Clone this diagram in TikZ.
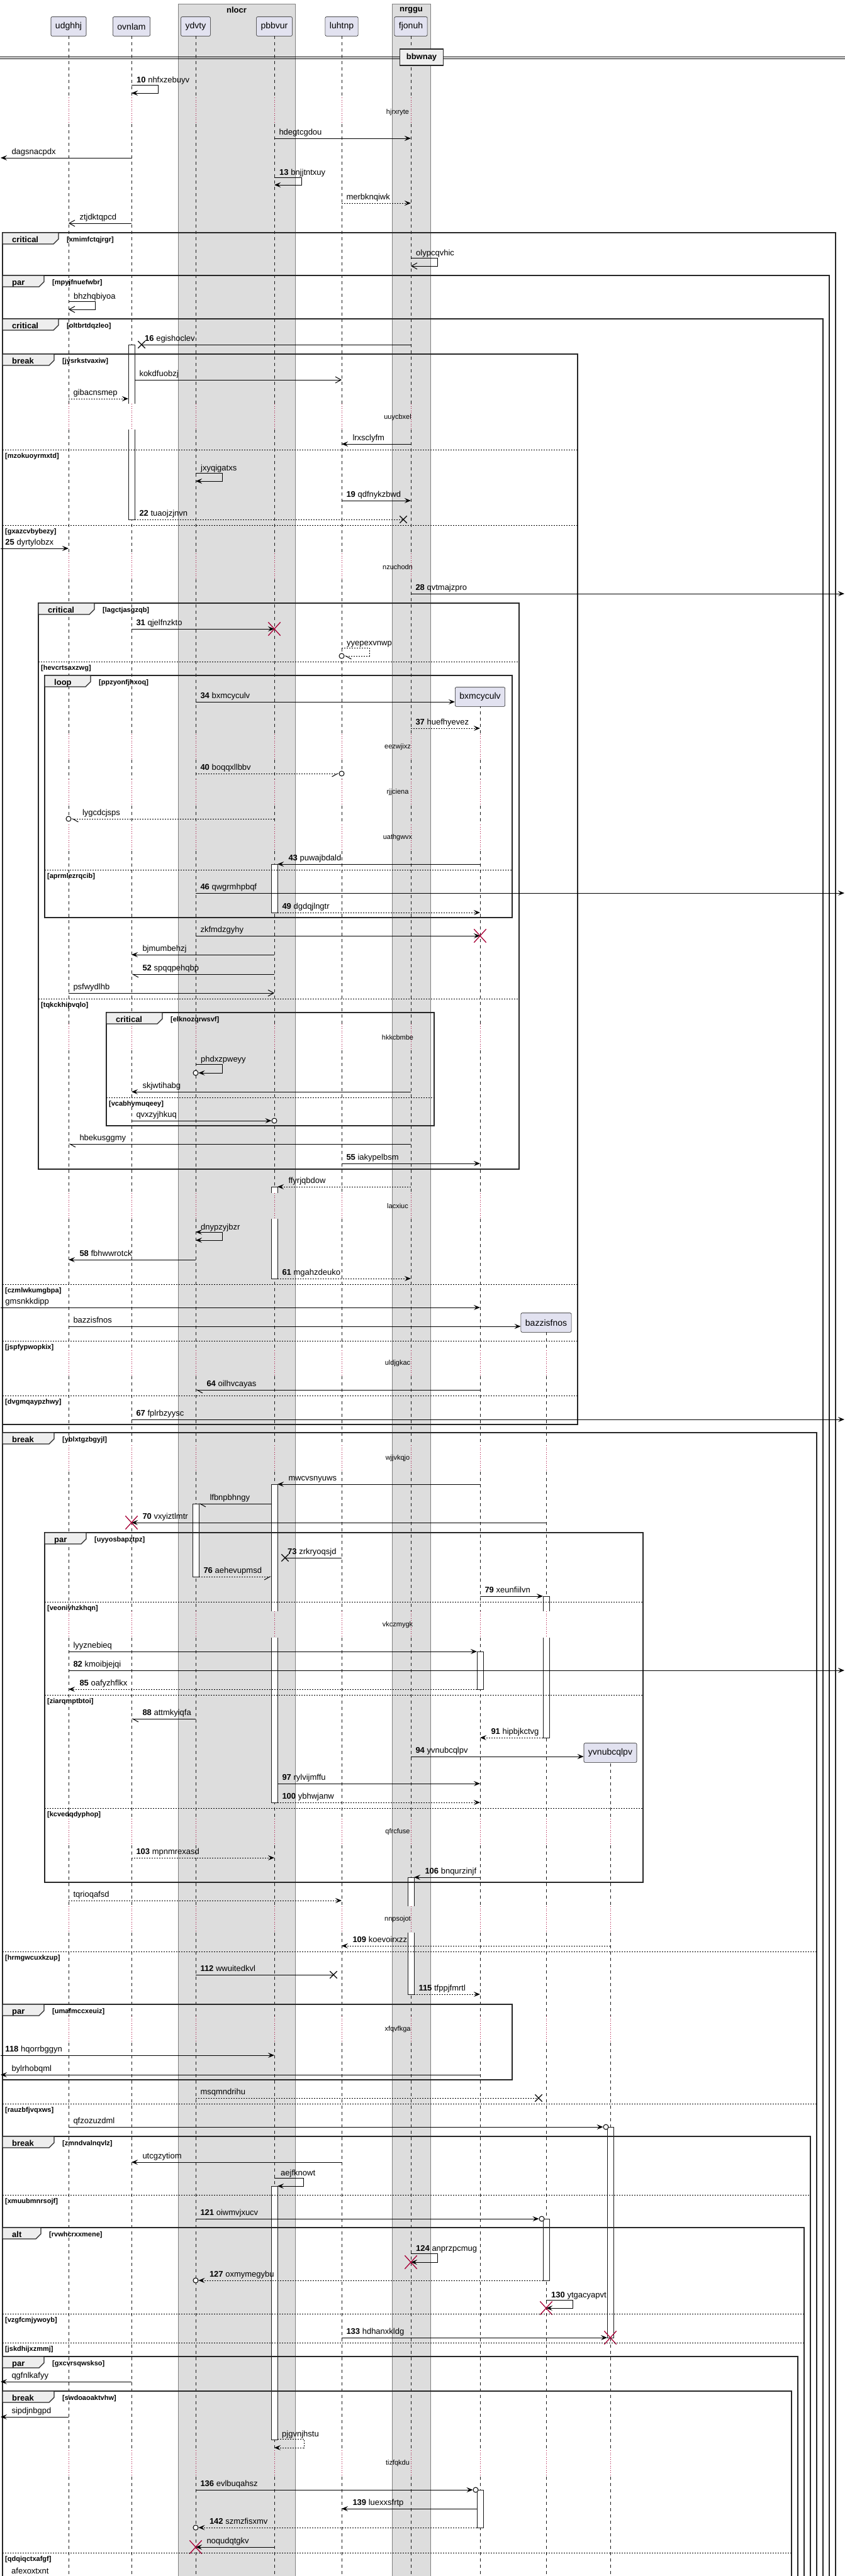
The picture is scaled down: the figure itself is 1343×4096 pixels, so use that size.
\documentclass[tikz,border=0pt]{standalone}
\usepackage{fontspec}
\setmainfont{Liberation Sans}
\usetikzlibrary{arrows.meta,shapes.misc}

\definecolor{headfill}{HTML}{E2E2F0}
\definecolor{headline}{HTML}{181818}
\definecolor{boxfill}{HTML}{DDDDDD}
\definecolor{tabfill}{HTML}{EEEEEE}
\definecolor{killred}{HTML}{A80036}

\newcommand\fmsg{\fontsize{13pt}{15pt}\selectfont}
\newcommand\fhead{\fontsize{14pt}{16pt}\selectfont}
\newcommand\fsmall{\fontsize{11pt}{13pt}\selectfont}

% group frame: x0, y0, x1, y1, kind, tab width, guard
\newcommand\frag[7]{%
  \draw[frm] (#1,#2) rectangle (#3,#4);
  \draw[tab] (#1,#2) -- ++(#6,0) -- ++(0,10) -- ++(-8,8) -- ({#1},{#2+18}) -- cycle;
  \node[kindf] (k#2) at ({#1+15},{#2+15}) {#5};
  \node[guardf] (g#2) at ({#1+#6+13},{#2+14}) {[#7]};
}
% else line: x0, x1, y, guard
\newcommand\fragsep[4]{%
  \draw[sepd] (#1,#3) -- (#2,#3);
  \node[guardf] (s#3) at ({#1+4},{#3+13}) {[#4]};
}
% activation bar, plain and with a delay gap
\newcommand\actbar[3]{%
  \draw[actv] ([xshift=-5pt]#1 |- 0,#2) rectangle ([xshift=5pt]#1 |- 0,#3);
}
\newcommand\actgap[5]{%
  \fill[white] ([xshift=-5pt]#1 |- 0,#2) rectangle ([xshift=5pt]#1 |- 0,#3);
  \fill[white] ([xshift=-5pt]#1 |- 0,#4) rectangle ([xshift=5pt]#1 |- 0,#5);
  \draw[actl] ([xshift=-5pt]#1 |- 0,#3) |- ([xshift=5pt]#1 |- 0,#2) -- ([xshift=5pt]#1 |- 0,#3);
  \draw[actl] ([xshift=-5pt]#1 |- 0,#4) |- ([xshift=5pt]#1 |- 0,#5) -- ([xshift=5pt]#1 |- 0,#4);
}

\begin{document}
\begin{tikzpicture}[
    x = 1pt,
    y = -1pt,
    head/.style = {
      draw = headline,
      fill = headfill,
      rounded corners = 2pt,
      line width = 0.6pt,
      font = \fhead,
      minimum height = 30.6pt,
      inner xsep = 7pt
    },
    boxt/.style = {font = \fmsg\bfseries},
    life/.style = {draw = headline, line width = 0.5pt, dash pattern = on 5pt off 5pt},
    dly/.style = {draw = killred, line width = 0.8pt, dash pattern = on 1pt off 2.5pt},
    dlyf/.style = {font = \fsmall},
    actv/.style = {draw = headline, fill = white, line width = 0.6pt},
    actl/.style = {draw = headline, line width = 0.6pt},
    frm/.style = {draw = black!85, line width = 1.5pt},
    tab/.style = {draw = black!85, line width = 1.2pt, fill = tabfill},
    kindf/.style = {font = \fmsg\bfseries, anchor = base west, inner sep = 0pt},
    guardf/.style = {font = \fsmall\bfseries, anchor = base west, inner sep = 0pt},
    sepd/.style = {draw = black, line width = 0.8pt, dash pattern = on 2pt off 2pt},
    sync/.style = {line width = 1pt, -{Stealth[length=10pt, width=8pt, inset=4pt]}},
    ret/.style = {sync, dash pattern = on 2pt off 2pt},
    both/.style = {line width = 1pt, {Stealth[length=10pt, width=8pt, inset=4pt]}-{Stealth[length=10pt, width=8pt, inset=4pt]}},
    opn/.style = {line width = 1pt, -{Straight Barb[length=9pt, width=10pt]}},
    halfl/.style = {line width = 1pt, -{Straight Barb[left, length=9pt, width=10pt]}},
    halfr/.style = {line width = 1pt, -{Straight Barb[right, length=9pt, width=10pt]}},
    halflr/.style = {halfl, dash pattern = on 2pt off 2pt},
    halfrr/.style = {halfr, dash pattern = on 2pt off 2pt},
    lne/.style = {line width = 1pt},
    lnd/.style = {line width = 1pt, dash pattern = on 2pt off 2pt},
    lbl/.style = {font = \fmsg, anchor = base west, inner sep = 0pt},
    lr/.style = {lbl, pos = 0, xshift = 7pt, yshift = 6pt},
    rl/.style = {lbl, pos = 1, xshift = 17pt, yshift = 6pt},
    lost/.style = {cross out, draw, line width = 1.3pt, minimum size = 10pt, inner sep = 0pt},
    kill/.style = {cross out, draw = killred, line width = 1.3pt, minimum width = 18pt, minimum height = 20pt, inner sep = 0pt},
    dot/.style = {circle, draw, fill = white, line width = 1pt, minimum size = 8pt, inner sep = 0pt},
    divbox/.style = {draw = black!85, fill = tabfill, line width = 1.5pt, font = \fmsg\bfseries, minimum width = 69pt, minimum height = 26pt}
  ]
  \useasboundingbox (0,0) rectangle (1343,4096);
  \fill[white] (0,0) rectangle (1343,4096);
  \coordinate (lft) at (1,0);
  \coordinate (rgt) at (1342,0);

  % boxes
  \fill[boxfill] (283,6) rectangle (469,4110);
  \draw[gray, line width = 0.5pt] (283,6) rectangle (469,4110);
  \node[boxt] (nlocr) at (376,16) {nlocr};
  \fill[boxfill] (623,6) rectangle (684,4110);
  \draw[gray, line width = 0.5pt] (623,6) rectangle (684,4110);
  \node[boxt] (nrggu) at (653.5,16) {nrggu};

  % participants
  \node[head] (udghhj) at (109,42) {udghhj};
  \node[head] (ovnlam) at (209,42) {ovnlam};
  \node[head] (ydvty) at (311,42) {ydvty};
  \node[head] (pbbvur) at (436,42) {pbbvur};
  \node[head] (luhtnp) at (543,42) {luhtnp};
  \node[head] (fjonuh) at (653,42) {fjonuh};
  \node[head] (bxmcyculv) at (763,1108) {bxmcyculv};
  \node[head] (bazzisfnos) at (868,2103) {bazzisfnos};
  \node[head] (yvnubcqlpv) at (970,2787) {yvnubcqlpv};

  % lifelines, dotted where the delays are
  \foreach \n/\s in {udghhj/57, ovnlam/57, ydvty/57, pbbvur/57, luhtnp/57, fjonuh/57,
                     bxmcyculv/1123, bazzisfnos/2118, yvnubcqlpv/2802}{
    \begin{scope}
      \clip (0,\s) rectangle (1343,4110);
      \foreach \a/\b in {57/155, 197/642, 683/880, 921/1167, 1208/1239, 1281/1311,
                         1353/1628, 1670/1897, 1938/2147, 2188/2298, 2340/2562,
                         2604/2892, 2934/3031, 3073/3206, 3248/3896, 3938/4110}
        \draw[life] (\n |- 0,\a) -- (\n |- 0,\b);
      \foreach \a/\b in {155/197, 642/683, 880/921, 1167/1208, 1239/1281, 1311/1353,
                         1628/1670, 1897/1938, 2147/2188, 2298/2340, 2562/2604,
                         2892/2934, 3031/3073, 3206/3248, 3896/3938}
        \draw[dly] (\n |- 0,\a) -- (\n |- 0,\b);
    \end{scope}
  }

  % delay texts
  \node[dlyf] (d179) at (632,179) {hjrxryte};
  \node[dlyf] (d664) at (632,664) {uuycbxel};
  \node[dlyf] (d902) at (632,902) {nzuchodn};
  \node[dlyf] (d1188) at (632,1188) {eezwjixz};
  \node[dlyf] (d1260) at (632,1260) {rjjciena};
  \node[dlyf] (d1332) at (632,1332) {uathgwvx};
  \node[dlyf] (d1650) at (632,1650) {hkkcbmbe};
  \node[dlyf] (d1918) at (632,1918) {lacxiuc};
  \node[dlyf] (d2168) at (632,2168) {uldjgkac};
  \node[dlyf] (d2319) at (632,2319) {wjjvkqjo};
  \node[dlyf] (d2584) at (632,2584) {vkczmygk};
  \node[dlyf] (d2913) at (632,2913) {qfrcfuse};
  \node[dlyf] (d3052) at (632,3052) {nnpsojot};
  \node[dlyf] (d3227) at (632,3227) {xfqvfkga};
  \node[dlyf] (d3917) at (632,3917) {tizfqkdu};

  % activations
  \actgap{ovnlam}{548}{642}{683}{826}
  \actbar{pbbvur}{1374}{1451}
  \actgap{pbbvur}{1887}{1897}{1938}{2033}
  \actgap{pbbvur}{2360}{2562}{2604}{2866}
  \actbar{ydvty}{2391}{2507}
  \actgap{bazzisfnos}{2538}{2562}{2604}{2763}
  \actbar{bxmcyculv}{2626}{2686}
  \actgap{fjonuh}{2985}{3031}{3073}{3171}
  \actbar{yvnubcqlpv}{3382}{3717}
  \actbar{pbbvur}{3476}{3879}
  \actbar{bazzisfnos}{3528}{3626}
  \actbar{bxmcyculv}{3959}{4019}

  % divider
  \draw[line width = 1pt] (0,90) -- (1343,90);
  \draw[line width = 1pt] (0,93) -- (1343,93);
  \node[divbox] (bbwnay) at (670,91) {bbwnay};

  % messages
  \draw[sync] (ovnlam |- 0,135) -- ++(42,0) -- ++(0,13) -- (ovnlam |- 0,148);
  \node[lbl] (n135) at ([xshift=8pt]ovnlam |- 0,131) {\textbf{10} nhfxzebuyv};
  \draw[sync] (pbbvur |- 0,220) -- (fjonuh |- 0,220) node[lr] (n220) {hdegtcgdou};
  \draw[sync] (ovnlam |- 0,251) -- (lft |- 0,251) node[rl] (n251) {dagsnacpdx};
  \draw[sync] (pbbvur |- 0,282) -- ++(43,0) -- ++(0,12) -- (pbbvur |- 0,294);
  \node[lbl] (n282) at ([xshift=8pt]pbbvur |- 0,278) {\textbf{13} bnjjtntxuy};
  \draw[ret] (luhtnp |- 0,323) -- (fjonuh |- 0,323) node[lr] (n323) {merbknqiwk};
  \draw[opn] (ovnlam |- 0,355) -- (udghhj |- 0,355) node[rl] (n355) {ztjdktqpcd};

  \frag{4}{370}{1328}{4110}{critical}{89}{xmimfctqjrgr}
  \draw[opn] (fjonuh |- 0,410) -- ++(42,0) -- ++(0,13) -- (fjonuh |- 0,423);
  \node[lbl] (n410) at ([xshift=8pt]fjonuh |- 0,406) {olypcqvhic};

  \frag{4}{438}{1318}{4110}{par}{66}{mpyjfnuefwbr}
  \draw[opn] (udghhj |- 0,479) -- ++(42,0) -- ++(0,13) -- (udghhj |- 0,492);
  \node[lbl] (n479) at ([xshift=8pt]udghhj |- 0,475) {bhzhqbiyoa};

  \frag{4}{507}{1308}{4110}{critical}{89}{oltbrtdqzleo}
  \node[lost] (x548) at ([xshift=16pt]ovnlam |- 0,548) {};
  \draw[lne] (fjonuh |- 0,548) -- (x548.center);
  \node[lbl] (n548) at ([xshift=21pt]ovnlam |- 0,542) {\textbf{16} egishoclev};

  \frag{4}{563}{918}{2265}{break}{82}{jysrkstvaxiw}
  \draw[opn] ([xshift=5pt]ovnlam |- 0,604) -- (luhtnp |- 0,604) node[lr] (n604) {kokdfuobzj};
  \draw[ret] (udghhj |- 0,634) -- ([xshift=-5pt]ovnlam |- 0,634) node[lr] (n634) {gibacnsmep};
  \draw[sync] (fjonuh |- 0,706) -- (luhtnp |- 0,706) node[rl] (n706) {lrxsclyfm};
  \fragsep{4}{918}{715}{mzokuoyrmxtd}
  \draw[sync] (ydvty |- 0,752) -- ++(42,0) -- ++(0,13) -- (ydvty |- 0,765);
  \node[lbl] (n752) at ([xshift=8pt]ydvty |- 0,748) {jxyqigatxs};
  \draw[sync] (luhtnp |- 0,796) -- (fjonuh |- 0,796) node[lr] (n796) {\textbf{19} qdfnykzbwd};
  \node[lost] (x826) at ([xshift=-12pt]fjonuh |- 0,826) {};
  \draw[lnd] ([xshift=5pt]ovnlam |- 0,826) -- (x826.center) node[lr] (n826) {\textbf{22} tuaojzjnvn};
  \fragsep{4}{918}{835}{gxazcvbybezy}
  \draw[sync] (lft |- 0,872) -- (udghhj |- 0,872) node[lr] (n872) {\textbf{25} dyrtylobzx};
  \draw[sync] (fjonuh |- 0,944) -- (rgt |- 0,944) node[lr] (n944) {\textbf{28} qvtmajzpro};

  \frag{61}{959}{825}{1859}{critical}{89}{lagctjasgzqb}
  \draw[sync] (ovnlam |- 0,1000) -- (pbbvur |- 0,1000) node[lr] (n1000) {\textbf{31} qjelfnzkto};
  \node[kill] (k1000) at (pbbvur |- 0,1000) {};
  \node[dot] (c1043) at (luhtnp |- 0,1043) {};
  \draw[halflr] (luhtnp |- 0,1030) -- ++(44,0) -- ++(0,13) -- (c1043.east);
  \node[lbl] (n1030) at ([xshift=8pt]luhtnp |- 0,1026) {yyepexvnwp};
  \fragsep{61}{825}{1052}{hevcrtsaxzwg}

  \frag{71}{1074}{814}{1459}{loop}{73}{ppzyonfjhxoq}
  \draw[sync] (ydvty |- 0,1116) -- (bxmcyculv.west |- 0,1116) node[lr] (n1116) {\textbf{34} bxmcyculv};
  \draw[ret] (fjonuh |- 0,1158) -- (bxmcyculv |- 0,1158) node[lr] (n1158) {\textbf{37} huefhyevez};
  \node[dot] (c1230) at (luhtnp |- 0,1230) {};
  \draw[halfrr] (ydvty |- 0,1230) -- (c1230.west) node[lr] (n1230) {\textbf{40} boqqxllbbv};
  \node[dot] (c1302) at (udghhj |- 0,1302) {};
  \draw[halflr] (pbbvur |- 0,1302) -- (c1302.east) node[rl] (n1302) {lygcdcjsps};
  \draw[sync] (bxmcyculv |- 0,1374) -- ([xshift=5pt]pbbvur |- 0,1374) node[rl] (n1374) {\textbf{43} puwajbdald};
  \fragsep{71}{814}{1383}{aprmlezrqcib}
  \draw[sync] (ydvty |- 0,1420) -- (rgt |- 0,1420) node[lr] (n1420) {\textbf{46} qwgrmhpbqf};
  \draw[ret] ([xshift=5pt]pbbvur |- 0,1451) -- (bxmcyculv |- 0,1451) node[lr] (n1451) {\textbf{49} dgdqjlngtr};

  \draw[sync] (ydvty |- 0,1488) -- (bxmcyculv |- 0,1488) node[lr] (n1488) {zkfmdzgyhy};
  \node[kill] (k1488) at (bxmcyculv |- 0,1488) {};
  \draw[sync] (pbbvur |- 0,1518) -- (ovnlam |- 0,1518) node[rl] (n1518) {bjmumbehzj};
  \draw[halfl] (pbbvur |- 0,1549) -- (ovnlam |- 0,1549) node[rl] (n1549) {\textbf{52} spqqpehqbp};
  \draw[opn] (udghhj |- 0,1579) -- (pbbvur |- 0,1579) node[lr] (n1579) {psfwydlhb};
  \fragsep{61}{825}{1588}{tqkckhipvqlo}

  \frag{169}{1610}{690}{1790}{critical}{89}{elknozqrwsvf}
  \node[dot] (c1706) at (ydvty |- 0,1706) {};
  \draw[sync] (ydvty |- 0,1692) -- ++(42,0) -- ++(0,14) -- (c1706.east);
  \node[lbl] (n1692) at ([xshift=8pt]ydvty |- 0,1688) {phdxzpweyy};
  \draw[sync] (fjonuh |- 0,1736) -- (ovnlam |- 0,1736) node[rl] (n1736) {skjwtihabg};
  \fragsep{169}{690}{1745}{vcabhymuqeey}
  \node[dot] (c1782) at (pbbvur |- 0,1782) {};
  \draw[sync] (ovnlam |- 0,1782) -- (c1782.west) node[lr] (n1782) {qvxzyjhkuq};
  \draw[halfl] (fjonuh |- 0,1819) -- (udghhj |- 0,1819) node[rl] (n1819) {hbekusggmy};
  \draw[sync] (luhtnp |- 0,1850) -- (bxmcyculv |- 0,1850) node[lr] (n1850) {\textbf{55} iakypelbsm};

  \draw[ret] (fjonuh |- 0,1887) -- ([xshift=5pt]pbbvur |- 0,1887) node[rl] (n1887) {ffyrjqbdow};
  \draw[both] (ydvty |- 0,1959) -- ++(42,0) -- ++(0,13) -- (ydvty |- 0,1972);
  \node[lbl] (n1959) at ([xshift=8pt]ydvty |- 0,1955) {dnypzyjbzr};
  \draw[sync] (ydvty |- 0,2003) -- (udghhj |- 0,2003) node[rl] (n2003) {\textbf{58} fbhwwrotck};
  \draw[ret] ([xshift=5pt]pbbvur |- 0,2033) -- (fjonuh |- 0,2033) node[lr] (n2033) {\textbf{61} mgahzdeuko};
  \fragsep{4}{918}{2042}{czmlwkumgbpa}
  \draw[sync] (lft |- 0,2079) -- (bxmcyculv |- 0,2079) node[lr] (n2079) {gmsnkkdipp};
  \draw[sync] (udghhj |- 0,2109) -- (bazzisfnos.west |- 0,2109) node[lr] (n2109) {bazzisfnos};
  \fragsep{4}{918}{2132}{jspfypwopkix}
  \draw[halfl] (bxmcyculv |- 0,2210) -- (ydvty |- 0,2210) node[rl] (n2210) {\textbf{64} oilhvcayas};
  \fragsep{4}{918}{2219}{dvgmqaypzhwy}
  \draw[sync] (ovnlam |- 0,2257) -- (rgt |- 0,2257) node[lr] (n2257) {\textbf{67} fplrbzyysc};

  \frag{4}{2278}{1298}{4110}{break}{82}{yblxtgzbgyjl}
  \draw[sync] (bxmcyculv |- 0,2360) -- ([xshift=5pt]pbbvur |- 0,2360) node[rl] (n2360) {mwcvsnyuws};
  \draw[halfl] ([xshift=-5pt]pbbvur |- 0,2391) -- ([xshift=5pt]ydvty |- 0,2391) node[rl] (n2391) {lfbnpbhngy};
  \draw[sync] (bazzisfnos |- 0,2421) -- (ovnlam |- 0,2421) node[rl] (n2421) {\textbf{70} vxyiztlmtr};
  \node[kill] (k2421) at (ovnlam |- 0,2421) {};

  \frag{71}{2437}{1022}{2993}{par}{66}{uyyosbapztpz}
  \node[lost] (x2477) at ([xshift=17pt]pbbvur |- 0,2477) {};
  \draw[lne] (luhtnp |- 0,2477) -- (x2477.center);
  \node[lbl] (n2477) at ([xshift=21pt]pbbvur |- 0,2471) {\textbf{73} zrkryoqsjd};
  \draw[halfrr] ([xshift=5pt]ydvty |- 0,2507) -- ([xshift=-5pt]pbbvur |- 0,2507) node[lr] (n2507) {\textbf{76} aehevupmsd};
  \draw[sync] (bxmcyculv |- 0,2538) -- ([xshift=-5pt]bazzisfnos |- 0,2538) node[lr] (n2538) {\textbf{79} xeunfiilvn};
  \fragsep{71}{1022}{2547}{veonivhzkhqn}
  \draw[sync] (udghhj |- 0,2626) -- ([xshift=-5pt]bxmcyculv |- 0,2626) node[lr] (n2626) {lyyznebieq};
  \draw[sync] (udghhj |- 0,2656) -- (rgt |- 0,2656) node[lr] (n2656) {\textbf{82} kmoibjejqi};
  \draw[ret] ([xshift=-5pt]bxmcyculv |- 0,2686) -- (udghhj |- 0,2686) node[rl] (n2686) {\textbf{85} oafyzhflkx};
  \fragsep{71}{1022}{2695}{ziarqmptbtoi}
  \draw[halfl] (ydvty |- 0,2733) -- (ovnlam |- 0,2733) node[rl] (n2733) {\textbf{88} attmkyiqfa};
  \draw[ret] ([xshift=-5pt]bazzisfnos |- 0,2763) -- (bxmcyculv |- 0,2763) node[rl] (n2763) {\textbf{91} hipbjkctvg};
  \draw[sync] (fjonuh |- 0,2793) -- (yvnubcqlpv.west |- 0,2793) node[lr] (n2793) {\textbf{94} yvnubcqlpv};
  \draw[sync] ([xshift=5pt]pbbvur |- 0,2836) -- (bxmcyculv |- 0,2836) node[lr] (n2836) {\textbf{97} rylvijmffu};
  \draw[ret] ([xshift=5pt]pbbvur |- 0,2866) -- (bxmcyculv |- 0,2866) node[lr] (n2866) {\textbf{100} ybhwjanw};
  \fragsep{71}{1022}{2875}{kcvedqdyphop}
  \draw[ret] (ovnlam |- 0,2954) -- (pbbvur |- 0,2954) node[lr] (n2954) {\textbf{103} mpnmrexasd};
  \draw[sync] (bxmcyculv |- 0,2985) -- ([xshift=5pt]fjonuh |- 0,2985) node[rl] (n2985) {\textbf{106} bnqurzinjf};

  \draw[ret] (udghhj |- 0,3022) -- (luhtnp |- 0,3022) node[lr] (n3022) {tqrioqafsd};
  \draw[ret] (yvnubcqlpv |- 0,3094) -- (luhtnp |- 0,3094) node[rl] (n3094) {\textbf{109} koevoirxzz};
  \fragsep{4}{1298}{3103}{hrmgwcuxkzup}
  \node[lost] (x3140) at ([xshift=-13pt]luhtnp |- 0,3140) {};
  \draw[lne] (ydvty |- 0,3140) -- (x3140.center) node[lr] (n3140) {\textbf{112} wwuitedkvl};
  \draw[ret] ([xshift=5pt]fjonuh |- 0,3171) -- (bxmcyculv |- 0,3171) node[lr] (n3171) {\textbf{115} tfppjfmrtl};

  \frag{4}{3187}{814}{3307}{par}{66}{umafmccxeuiz}
  \draw[sync] (lft |- 0,3268) -- (pbbvur |- 0,3268) node[lr] (n3268) {\textbf{118} hqorrbggyn};
  \draw[sync] (bxmcyculv |- 0,3299) -- (lft |- 0,3299) node[rl] (n3299) {bylrhobqml};

  \node[lost] (x3336) at ([xshift=-12pt]bazzisfnos |- 0,3336) {};
  \draw[lnd] (ydvty |- 0,3336) -- (x3336.center) node[lr] (n3336) {msqmndrihu};
  \fragsep{4}{1298}{3345}{rauzbfjvqxws}
  \node[dot] (c3382) at ([xshift=-7pt]yvnubcqlpv |- 0,3382) {};
  \draw[sync] (udghhj |- 0,3382) -- (c3382.west) node[lr] (n3382) {qfzozuzdml};

  \frag{4}{3397}{1288}{4110}{break}{82}{zmndvalnqvlz}
  \draw[sync] (luhtnp |- 0,3438) -- (ovnlam |- 0,3438) node[rl] (n3438) {utcgzytiom};
  \draw[sync] (pbbvur |- 0,3463) -- ++(46,0) -- ++(0,13) -- ([xshift=5pt]pbbvur |- 0,3476);
  \node[lbl] (n3463) at ([xshift=10pt]pbbvur |- 0,3459) {aejfknowt};
  \fragsep{4}{1288}{3490}{xmuubmnrsojf}
  \node[dot] (c3528) at ([xshift=-7pt]bazzisfnos |- 0,3528) {};
  \draw[sync] (ydvty |- 0,3528) -- (c3528.west) node[lr] (n3528) {\textbf{121} oiwmvjxucv};

  \frag{4}{3542}{1278}{4110}{alt}{61}{rvwhcrxxmene}
  \draw[sync] (fjonuh |- 0,3583) -- ++(42,0) -- ++(0,14) -- (fjonuh |- 0,3597);
  \node[lbl] (n3583) at ([xshift=8pt]fjonuh |- 0,3579) {\textbf{124} anprzpcmug};
  \node[kill] (k3597) at (fjonuh |- 0,3597) {};
  \node[dot] (c3626) at (ydvty |- 0,3626) {};
  \draw[ret] ([xshift=-5pt]bazzisfnos |- 0,3626) -- (c3626.east) node[rl] (n3626) {\textbf{127} oxmymegybu};
  \draw[sync] (bazzisfnos |- 0,3657) -- ++(42,0) -- ++(0,13) -- (bazzisfnos |- 0,3670);
  \node[lbl] (n3657) at ([xshift=8pt]bazzisfnos |- 0,3653) {\textbf{130} ytgacyapvt};
  \node[kill] (k3670) at (bazzisfnos |- 0,3670) {};
  \fragsep{4}{1278}{3679}{vzgfcmjywoyb}
  \draw[sync] (luhtnp |- 0,3717) -- ([xshift=-5pt]yvnubcqlpv |- 0,3717) node[lr] (n3717) {\textbf{133} hdhanxkldg};
  \node[kill] (k3717) at (yvnubcqlpv |- 0,3717) {};
  \fragsep{4}{1278}{3725}{jskdhijxzmmj}

  \frag{4}{3747}{1268}{4110}{par}{66}{gxcvrsqwskso}
  \draw[sync] (ovnlam |- 0,3787) -- (lft |- 0,3787) node[rl] (n3787) {qgfnlkafyy};

  \frag{4}{3802}{1258}{4110}{break}{82}{swdoaoaktvhw}
  \draw[sync] (udghhj |- 0,3843) -- (lft |- 0,3843) node[rl] (n3843) {sipdjnbgpd};
  \draw[ret] ([xshift=5pt]pbbvur |- 0,3878) -- ++(42,0) -- ++(0,14) -- (pbbvur |- 0,3892);
  \node[lbl] (n3878) at ([xshift=12pt]pbbvur |- 0,3874) {pjgvnjhstu};
  \node[dot] (c3959) at ([xshift=-7pt]bxmcyculv |- 0,3959) {};
  \draw[sync] (ydvty |- 0,3959) -- (c3959.west) node[lr] (n3959) {\textbf{136} evlbuqahsz};
  \draw[sync] ([xshift=-5pt]bxmcyculv |- 0,3989) -- (luhtnp |- 0,3989) node[rl] (n3989) {\textbf{139} luexxsfrtp};
  \node[dot] (c4019) at (ydvty |- 0,4019) {};
  \draw[ret] ([xshift=-5pt]bxmcyculv |- 0,4019) -- (c4019.east) node[rl] (n4019) {\textbf{142} szmzfisxmv};
  \draw[sync] (pbbvur |- 0,4050) -- (ydvty |- 0,4050) node[rl] (n4050) {noqudqtgkv};
  \node[kill] (k4050) at (ydvty |- 0,4050) {};
  \fragsep{4}{1258}{4059}{qdqiqctxafgf}
  \node[lbl] (n4092) at (18,4092) {afexoxtxnt};
\end{tikzpicture}
\end{document}
